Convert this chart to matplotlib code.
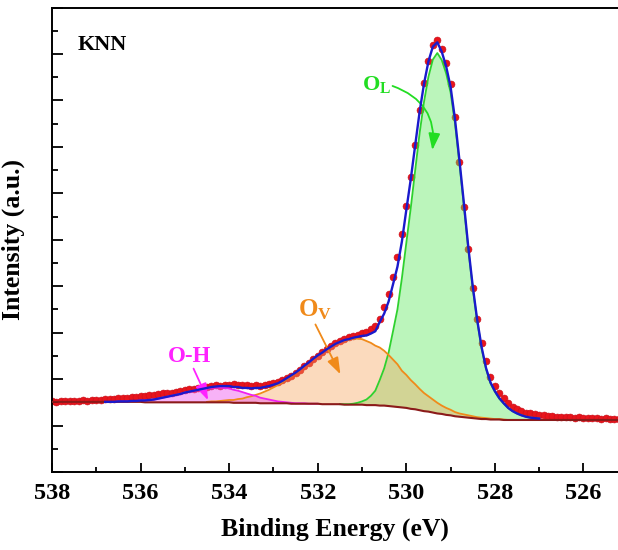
import numpy as np
import matplotlib
matplotlib.use('Agg')
import matplotlib.pyplot as plt

plt.rcParams['font.family'] = ['Liberation Serif', 'DejaVu Serif']
plt.rcParams['font.weight'] = 'bold'
plt.rcParams['mathtext.fontset'] = 'custom'
plt.rcParams['mathtext.rm'] = 'Liberation Serif'
plt.rcParams['mathtext.bf'] = 'Liberation Serif:bold'

# binding energy grid of the measurement (538.0 -> 525.2 eV, 0.1 eV step)
energy = np.round(np.arange(538.0, 525.15, -0.1), 1)

# measured O 1s spectrum (red dots)
counts = [
    1.52, 1.51, 1.52, 1.52, 1.53, 1.52, 1.53, 1.54, 1.53, 1.55,
    1.55, 1.56, 1.57, 1.57, 1.58, 1.59, 1.60, 1.60, 1.62, 1.62,
    1.64, 1.64, 1.66, 1.66, 1.68, 1.69, 1.71, 1.71, 1.73, 1.75,
    1.76, 1.78, 1.78, 1.81, 1.82, 1.84, 1.85, 1.87, 1.86, 1.88,
    1.88, 1.89, 1.88, 1.87, 1.88, 1.86, 1.87, 1.86, 1.88, 1.89,
    1.91, 1.94, 1.97, 2.02, 2.07, 2.14, 2.20, 2.29, 2.35, 2.44,
    2.50, 2.58, 2.64, 2.71, 2.77, 2.82, 2.86, 2.90, 2.93, 2.96,
    2.99, 3.02, 3.08, 3.15, 3.30, 3.56, 3.84, 4.20, 4.62, 5.12,
    5.72, 6.35, 7.05, 7.80, 8.38, 8.85, 9.20, 9.31, 9.10, 8.80,
    8.35, 7.65, 6.68, 5.70, 4.80, 3.96, 3.30, 2.78, 2.38, 2.04,
    1.85, 1.70, 1.60, 1.49, 1.41, 1.35, 1.31, 1.28, 1.26, 1.24,
    1.23, 1.22, 1.21, 1.20, 1.19, 1.19, 1.18, 1.18, 1.17, 1.18,
    1.17, 1.16, 1.17, 1.16, 1.15, 1.16, 1.15, 1.14, 1.14,
]

# Shirley background on the same grid
background = [
    1.51, 1.51, 1.51, 1.51, 1.51, 1.51, 1.51, 1.51, 1.51, 1.51,
    1.51, 1.51, 1.51, 1.51, 1.51, 1.51, 1.51, 1.51, 1.51, 1.51,
    1.51, 1.50, 1.50, 1.50, 1.50, 1.50, 1.50, 1.50, 1.50, 1.50,
    1.50, 1.50, 1.50, 1.50, 1.50, 1.50, 1.50, 1.50, 1.50, 1.50,
    1.50, 1.49, 1.49, 1.49, 1.49, 1.49, 1.49, 1.48, 1.48, 1.48,
    1.48, 1.48, 1.48, 1.48, 1.47, 1.47, 1.47, 1.47, 1.47, 1.47,
    1.47, 1.46, 1.46, 1.46, 1.46, 1.46, 1.45, 1.45, 1.45, 1.45,
    1.45, 1.44, 1.44, 1.44, 1.43, 1.43, 1.42, 1.41, 1.40, 1.39,
    1.38, 1.36, 1.35, 1.33, 1.31, 1.30, 1.28, 1.26, 1.25, 1.23,
    1.22, 1.20, 1.19, 1.18, 1.17, 1.16, 1.15, 1.14, 1.14, 1.13,
    1.13, 1.13, 1.12, 1.12, 1.12, 1.12, 1.12, 1.12, 1.12, 1.12,
    1.12, 1.12, 1.12, 1.12, 1.12, 1.12, 1.12, 1.12, 1.12, 1.12,
    1.12, 1.12, 1.12, 1.12, 1.12, 1.12, 1.12, 1.12, 1.12,
]

# fitted components, height above background, each from its start energy
oh_start = 536.8
oh_peak = [
    0.00, 0.00, 0.00, 0.01, 0.01, 0.01, 0.02, 0.02, 0.03,
    0.04, 0.05, 0.06, 0.08, 0.10, 0.12, 0.14, 0.16, 0.18, 0.21,
    0.23, 0.25, 0.27, 0.29, 0.30, 0.31, 0.32, 0.32, 0.31, 0.30,
    0.28, 0.26, 0.23, 0.20, 0.17, 0.15, 0.12, 0.10, 0.08, 0.06,
    0.04, 0.03, 0.02, 0.02, 0.01, 0.01, 0.01, 0.00, 0.00, 0.00,
]
ov_start = 534.5
ov_peak = [
    0.01, 0.02, 0.02, 0.03, 0.04, 0.05,
    0.06, 0.08, 0.09, 0.12, 0.14, 0.17, 0.21, 0.25, 0.29, 0.34,
    0.39, 0.45, 0.52, 0.59, 0.66, 0.73, 0.81, 0.89, 0.97, 1.04,
    1.11, 1.18, 1.24, 1.30, 1.34, 1.38, 1.40, 1.42, 1.42, 1.41,
    1.38, 1.34, 1.28, 1.25, 1.18, 1.10, 1.01, 0.92, 0.79, 0.71,
    0.62, 0.54, 0.46, 0.39, 0.33, 0.28, 0.23, 0.18, 0.15, 0.12,
    0.09, 0.07, 0.06, 0.05, 0.04, 0.03, 0.03, 0.02, 0.02, 0.01,
    0.01, 0.01, 0.00,
]
ol_start = 531.5
ol_peak = [
    0.00, 0.01, 0.01, 0.02, 0.04, 0.07,
    0.12, 0.20, 0.31, 0.55, 0.80, 1.15, 1.62, 2.10, 2.78, 3.55,
    4.32, 5.14, 5.96, 6.66, 7.21, 7.60, 7.76, 7.62, 7.35, 6.95,
    6.30, 5.45, 4.55, 3.62, 2.80, 2.10, 1.52, 1.08, 0.78, 0.60,
    0.45, 0.35, 0.26, 0.19, 0.14, 0.10, 0.07, 0.05, 0.04, 0.03,
]
fit_range = (536.8, 527.0)

bg = np.array(background)


def component(start, vals):
    # put a component on the full energy grid
    i = int(round((538.0 - start) * 10))
    full = np.zeros(len(energy))
    full[i:i + len(vals)] = vals
    return full, slice(i, i + len(vals))


oh, oh_sl = component(oh_start, oh_peak)
ov, ov_sl = component(ov_start, ov_peak)
ol, ol_sl = component(ol_start, ol_peak)
i0 = int(round((538.0 - fit_range[0]) * 10))
i1 = int(round((538.0 - fit_range[1]) * 10)) + 1
env = bg + oh + ov + ol

fig = plt.figure(figsize=(6.18, 5.5), dpi=100)
ax = fig.add_axes([52 / 618, 1 - 472 / 550, 1 - 52 / 618, 464.5 / 550])

# raw data first so the translucent fills tint the dots
ax.plot(energy, counts, 'o', ms=5, color='#e8141c', mec='#c8101a', mew=0.4, zorder=1)

ax.fill_between(energy[ol_sl], bg[ol_sl], (bg + ol)[ol_sl], color='#5ee85e', alpha=0.42, lw=0, zorder=2)
ax.fill_between(energy[ov_sl], bg[ov_sl], (bg + ov)[ov_sl], color='#f7a35c', alpha=0.4, lw=0, zorder=2)
ax.fill_between(energy[oh_sl], bg[oh_sl], (bg + oh)[oh_sl], color='#ee55ee', alpha=0.45, lw=0, zorder=2)

ax.plot(energy[ol_sl], (bg + ol)[ol_sl], color='#2ed12e', lw=1.3, zorder=3)
ax.plot(energy[ov_sl], (bg + ov)[ov_sl], color='#f08a1a', lw=1.3, zorder=3)
ax.plot(energy[oh_sl], (bg + oh)[oh_sl], color='#f020f0', lw=1.3, zorder=3)
ax.plot(energy, bg, color='#8b1a1a', lw=1.5, zorder=3)
ax.plot(energy[i0:i1], env[i0:i1], color='#1a1acc', lw=1.7, zorder=4)

# peak labels and arrows
arrow = dict(arrowstyle='-|>,head_length=1.0,head_width=0.35', lw=1.3, mutation_scale=10)
ax.text(531.0, 8.22, r'$\mathbf{O_L}$', color='#22dd22', fontsize=16, va='baseline')
ax.annotate('', xy=(529.42, 6.87), xytext=(530.37, 8.33),
            arrowprops=dict(arrow, color='#22dd22', connectionstyle='arc3,rad=-0.42'))
ax.text(532.45, 3.34, r'$\mathbf{O_V}$', color='#f08a1a', fontsize=18, va='baseline')
ax.annotate('', xy=(531.46, 2.05), xytext=(532.08, 3.23),
            arrowprops=dict(arrow, color='#f08a1a'))
ax.text(535.39, 2.37, 'O-H', color='#ff22ff', fontsize=16.5, fontweight='bold', va='baseline')
ax.annotate('', xy=(534.45, 1.49), xytext=(534.83, 2.28),
            arrowprops=dict(arrow, color='#ff22ff'))

ax.text(0.046, 0.9085, 'KNN', transform=ax.transAxes, fontsize=16, fontweight='bold', va='baseline')

ax.set_xlim(538, 525.22)
ax.set_ylim(0, 10)
ax.set_xticks([538, 536, 534, 532, 530, 528, 526])
ax.set_xticks(np.arange(537, 525, -2), minor=True)
ax.set_yticks(np.arange(0, 10.1, 1))
ax.set_yticks(np.arange(0.5, 10, 1), minor=True)
ax.set_yticklabels([])
ax.tick_params(which='both', direction='in', width=1.3, labelsize=17.5, pad=8)
ax.tick_params(which='major', length=6.5)
ax.tick_params(which='minor', length=3.5)
ax.tick_params(axis='y', which='major', length=8)
ax.tick_params(axis='y', which='minor', length=4.5)
for s in ['left', 'bottom', 'top']:
    ax.spines[s].set_linewidth(1.4)
ax.spines['right'].set_visible(False)

ax.set_xlabel('Binding Energy (eV)', fontsize=18.5, fontweight='bold', labelpad=10)
ax.set_ylabel('Intensity (a.u.)', fontsize=18.5, fontweight='bold')
ax.yaxis.set_label_coords(-0.047, 0.5)

plt.savefig('out.png', dpi=100)
